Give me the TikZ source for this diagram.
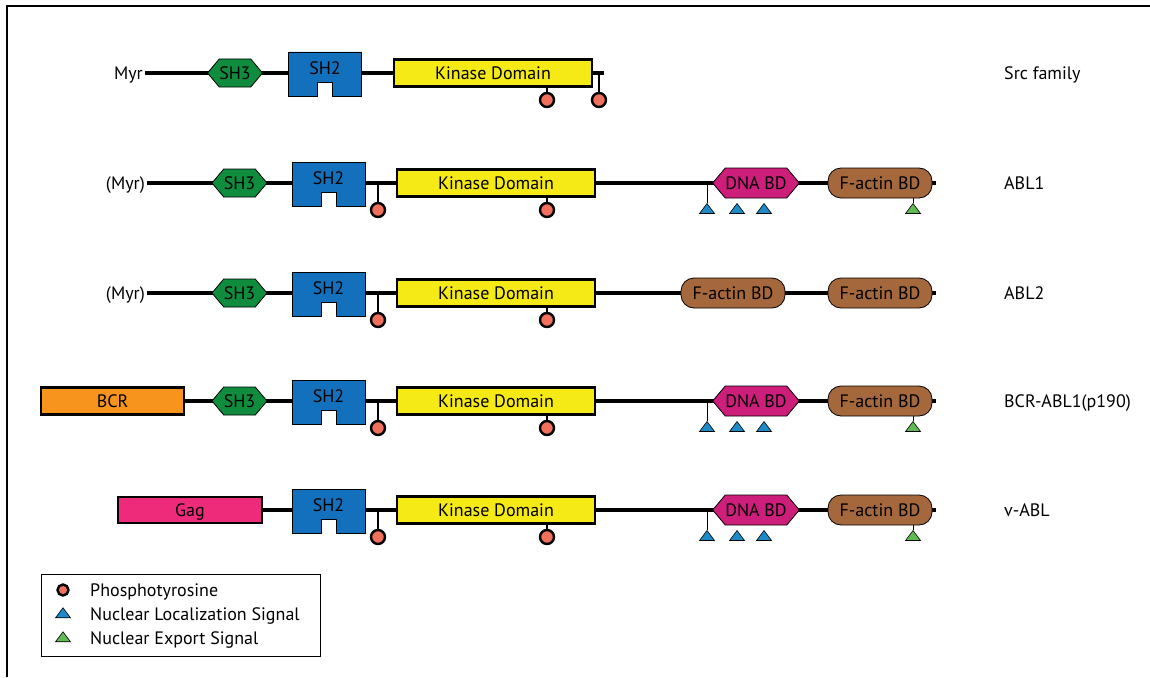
\documentclass[tikz,border=0pt]{standalone}
\usepackage{fontspec}
\setmainfont{PT Sans}
\usetikzlibrary{shapes.geometric, shapes.symbols, positioning, backgrounds}

\definecolor{shthreegreen}{RGB}{16,140,62}
\definecolor{shtwoblue}{RGB}{18,112,188}
\definecolor{kinyellow}{RGB}{246,234,22}
\definecolor{dnamagenta}{RGB}{204,30,122}
\definecolor{factinbrown}{RGB}{164,104,60}
\definecolor{bcrorange}{RGB}{247,148,30}
\definecolor{gagpink}{RGB}{238,42,123}
\definecolor{ptyrsalmon}{RGB}{240,112,92}
\definecolor{nlsblue}{RGB}{30,138,200}
\definecolor{nesgreen}{RGB}{96,186,82}

\tikzset{
  frame/.style={line width=2pt},
  backbone/.style={line width=4pt},
  stem/.style={line width=1.5pt},
  tag/.style={inner sep=2pt, text height=12.5pt, text depth=0pt},
  domainbox/.style={draw=black, inner sep=0pt, text height=12.5pt, text depth=0pt},
  boldbox/.style={domainbox, rectangle, line width=2.5pt},
  kinase/.style={boldbox, fill=kinyellow, minimum width=198pt, minimum height=27pt},
  bcr/.style={boldbox, fill=bcrorange, minimum width=143pt, minimum height=27pt},
  gag/.style={boldbox, fill=gagpink, minimum width=144pt, minimum height=26pt},
  shthree/.style={domainbox, signal, signal to=east and west, signal pointer angle=100,
    fill=shthreegreen, line width=0.8pt, minimum width=55pt, minimum height=28pt},
  dnabd/.style={domainbox, signal, signal to=east and west, signal pointer angle=100,
    fill=dnamagenta, line width=0.8pt, minimum width=86pt, minimum height=30pt},
  factin/.style={domainbox, rectangle, rounded corners=13pt, fill=factinbrown,
    line width=0.8pt, minimum width=104pt, minimum height=30pt},
  shtwobox/.style={draw=black, fill=shtwoblue, line width=0.8pt},
  ptyr/.style={circle, draw=black, fill=ptyrsalmon, line width=2.4pt, inner sep=0pt, minimum size=14pt},
  signalmark/.style={isosceles triangle, shape border rotate=90, isosceles triangle apex angle=74,
    isosceles triangle stretches, draw=black, line width=0.6pt, inner sep=0pt,
    minimum height=10pt, minimum width=15pt},
  nls/.style={signalmark, fill=nlsblue},
  nes/.style={signalmark, fill=nesgreen},
  legendbox/.style={draw=black, line width=1pt, minimum width=279pt, minimum height=82pt}
}

% notched SH2 box: name, x, y of backbone
\newcommand{\shtwo}[3]{%
  \draw[shtwobox] (#2-36.5,#3-21) -- ++(73,0) -- ++(0,44) -- ++(-29,0)
    -- ++(0,-14) -- ++(-15,0) -- ++(0,14) -- ++(-29,0) -- cycle;
  \node[tag, inner sep=0pt] (#1) at (#2,#3-5) {SH2};
}

\begin{document}
\begin{tikzpicture}[x=1pt, y=-1pt, font=\fontsize{18}{21}\selectfont]
  \useasboundingbox (0,0) rectangle (1150,677);
  \draw[frame] (7,677) -- (7,6) -- (1150,6);

  % Src family
  \node[tag, anchor=east] (myr1) at (145,73) {Myr};
  \coordinate (end1) at (604,73);
  \node[shthree] (shthree1) at (235,73) {SH3};
  \shtwo{shtwo1}{325}{73}
  \node[kinase] (kin1) at (493,73) {Kinase Domain};
  \node[ptyr] (ptyrB1) at (547,100) {};
  \node[ptyr] (ptyrC1) at (599,100) {};
  \begin{scope}[on background layer]
    \draw[backbone] (myr1.east) -- (end1);
    \draw[stem] (ptyrB1) -- (ptyrB1 |- kin1.south);
    \draw[stem] (ptyrC1) -- (ptyrC1 |- end1);
  \end{scope}

  % common ABL part
  \foreach \row/\yy in {2/183,3/293,4/401,5/510}{
    \coordinate (end\row) at (936,\yy);
    \shtwo{shtwo\row}{328.5}{\yy}
    \node[kinase] (kin\row) at (496,\yy) {Kinase Domain};
    \node[ptyr] (ptyrA\row) at (378,\yy+27) {};
    \node[ptyr] (ptyrB\row) at (547,\yy+27) {};
    \node[factin] (factin\row) at (880,\yy) {F-actin BD};
    \begin{scope}[on background layer]
      \draw[stem] (ptyrA\row) -- (ptyrA\row |- end\row);
      \draw[stem] (ptyrB\row) -- (ptyrB\row |- kin\row.south);
    \end{scope}
  }

  % DNA binding domain and signals
  \foreach \row/\yy in {2/183,4/401,5/510}{
    \node[dnabd] (dna\row) at (756,\yy) {DNA BD};
    \node[nls, anchor=apex] (nlsA\row) at (707,\yy+20) {};
    \node[nls, anchor=apex] (nlsB\row) at (737,\yy+20) {};
    \node[nls, anchor=apex] (nlsC\row) at (764,\yy+20) {};
    \node[nes, anchor=apex] (nes\row) at (913,\yy+20) {};
    \begin{scope}[on background layer]
      \draw[stem, line width=1pt] (nlsA\row.apex) -- (nlsA\row.apex |- end\row);
      \draw[stem, line width=1pt] (nes\row.apex) -- (nes\row.apex |- factin\row.south);
    \end{scope}
  }

  % ABL1
  \node[tag, anchor=east] (myr2) at (147,183) {(Myr)};
  \node[shthree] (shthree2) at (239.5,183) {SH3};
  % ABL2
  \node[tag, anchor=east] (myr3) at (147,293) {(Myr)};
  \node[shthree] (shthree3) at (239.5,293) {SH3};
  \node[factin] (factinA3) at (733,293) {F-actin BD};
  % BCR-ABL1
  \node[bcr] (bcr4) at (112.5,401) {BCR};
  \node[shthree] (shthree4) at (239.5,401) {SH3};
  % v-ABL
  \node[gag] (gag5) at (190,510) {Gag};

  \begin{scope}[on background layer]
    \draw[backbone] (myr2.east) -- (end2);
    \draw[backbone] (myr3.east) -- (end3);
    \draw[backbone] (bcr4.east) -- (end4);
    \draw[backbone] (gag5.east) -- (end5);
  \end{scope}

  % names
  \node[tag, anchor=west] (name1) at (1002,73) {Src family};
  \node[tag, anchor=west] (name2) at (1002,183) {ABL1};
  \node[tag, anchor=west] (name3) at (1002,293) {ABL2};
  \node[tag, anchor=west] (name4) at (1002,401) {BCR-ABL1(p190)};
  \node[tag, anchor=west] (name5) at (1002,510) {v-ABL};

  % legend
  \node[legendbox] (legend) at (180.5,615) {};
  \node[ptyr, minimum size=11pt] (keyptyr) at (63,590) {};
  \node[nls] (keynls) at (63,614) {};
  \node[nes] (keynes) at (63,638) {};
  \node[tag, anchor=west] (keyptyrtxt) at (88,590) {Phosphotyrosine};
  \node[tag, anchor=west] (keynlstxt) at (88,614) {Nuclear Localization Signal};
  \node[tag, anchor=west] (keynestxt) at (88,638) {Nuclear Export Signal};
\end{tikzpicture}
\end{document}
